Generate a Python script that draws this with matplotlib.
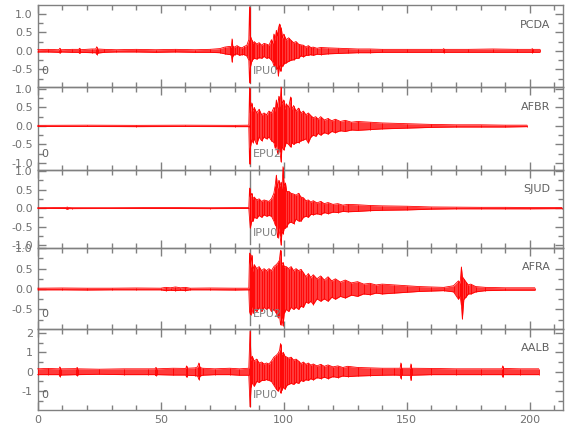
import matplotlib
matplotlib.use('Agg')
import matplotlib.pyplot as plt
from matplotlib.ticker import MultipleLocator, FixedLocator

# station names, top to bottom
stations = ['PCDA', 'AFBR', 'SJUD', 'AFRA', 'AALB']
picks = ['IPU0', 'EPU2', 'IPU0', 'EPU2', 'IPU0']
pick_time = 86.2

# trace envelopes: (time s, upper, lower)
pcda = [(0, .03, -.03), (4, .04, -.03), (8.6, .03, -.04), (9, .07, -.06), (9.4, .03, -.03),
        (14, .04, -.04), (16.7, .04, -.04), (17, .07, -.07), (17.3, .03, -.04), (22, .05, -.05),
        (23.6, .05, -.05), (24, .11, -.10), (24.4, .05, -.06), (27, .04, -.04), (32, .03, -.03),
        (40, .04, -.03), (48, .03, -.04), (56, .04, -.03), (64, .03, -.04), (70, .04, -.04),
        (74, .06, -.05), (76, .10, -.08), (78, .12, -.10), (78.7, .10, -.10), (79, .32, -.30),
        (79.3, .12, -.14), (80, .10, -.10), (81, .14, -.08), (82, .10, -.12), (83, .08, -.10),
        (84, .12, -.10), (85, .15, -.14), (85.8, .30, -.25), (86.1, 1.18, -.86), (86.4, .40, -.45),
        (87, .30, -.28), (87.5, .20, -.22), (88, .25, -.20), (89, .18, -.22), (90, .22, -.18),
        (91, .15, -.20), (92, .20, -.15), (93, .18, -.20), (94, .15, -.18), (95, .30, -.25),
        (95.5, .20, -.30), (96, .45, -.40), (96.5, .30, -.35), (97, .55, -.50), (97.5, .40, -.45),
        (97.8, .60, -.67), (98.3, .72, -.40), (98.7, .45, -.55), (99, .62, -.45), (99.5, .35, -.40),
        (100, .45, -.35), (101, .30, -.32), (102, .35, -.28), (103, .28, -.25), (104, .22, -.24),
        (105, .25, -.20), (106, .18, -.20), (107, .16, -.13), (108, .15, -.16), (109, .10, -.12),
        (110, .14, -.12), (111, .09, -.10), (112, .10, -.12), (113.5, .07, -.09), (115, .09, -.10),
        (118, .08, -.08), (122, .07, -.07), (126, .06, -.06), (130, .05, -.05), (135, .05, -.05),
        (140, .04, -.04), (150, .04, -.04), (160, .04, -.04), (164.7, .04, -.04), (165, .06, -.05),
        (165.3, .04, -.04), (175, .04, -.04), (185, .05, -.04), (195, .04, -.04), (200.7, .04, -.04),
        (201, .06, -.05), (201.3, .04, -.04), (204, .04, -.04)]

afbr = [(0, .015, -.015), (20, .02, -.015), (40, .015, -.02), (60, .02, -.015), (80, .015, -.02),
        (85.8, .02, -.02), (86.1, 1.03, -1.03), (86.4, .35, -.60), (87, .62, -.38), (87.5, .40, -.45),
        (88, .50, -.35), (89, .35, -.50), (90, .45, -.30), (91, .30, -.40), (92, .35, -.30),
        (93, .30, -.35), (94, .40, -.30), (95, .35, -.40), (96, .50, -.45), (96.5, .40, -.60),
        (97, .70, -.50), (97.5, .50, -.75), (98, .80, -.60), (98.5, .55, -.70), (98.9, 1.05, -.97),
        (99.3, .60, -.55), (100, .70, -.65), (100.5, .45, -.55), (101, .60, -.45), (102, .50, -.50),
        (102.8, .78, -.57), (103.3, .45, -.45), (104, .55, -.50), (105, .40, -.45), (106, .48, -.45),
        (107, .35, -.40), (108, .40, -.38), (109, .30, -.35), (110, .35, -.46), (111, .28, -.30),
        (112, .22, -.25), (113, .25, -.28), (114, .18, -.20), (115, .25, -.25), (116.5, .16, -.18),
        (118, .20, -.22), (119.5, .14, -.15), (121, .18, -.18), (123, .12, -.13), (125, .15, -.15),
        (127.5, .10, -.11), (130, .12, -.12), (135, .10, -.10), (140, .08, -.08), (150, .06, -.06),
        (160, .04, -.04), (170, .03, -.03), (180, .03, -.03), (190, .02, -.03), (198.8, .02, -.02)]

sjud = [(0, .01, -.01), (10, .015, -.01), (11.7, .015, -.015), (12, .03, -.03), (12.3, .015, -.015),
        (14, .01, -.015), (30, .01, -.01), (50, .015, -.01), (70, .01, -.015), (85.8, .015, -.01),
        (86.1, .54, -.30), (86.4, .30, -.54), (87, .40, -.35), (87.5, .25, -.35), (88, .30, -.25),
        (89, .22, -.28), (90, .25, -.20), (91, .18, -.25), (92, .22, -.18), (93, .20, -.22),
        (94, .18, -.20), (95, .25, -.22), (96, .40, -.35), (96.5, .60, -.45), (97, .89, -.50),
        (97.5, .55, -.80), (98, .75, -.55), (98.5, .60, -.75), (98.9, .70, -1.00), (99.3, .55, -.60),
        (99.7, 1.12, -.70), (100.2, .60, -.55), (100.7, .68, -.54), (101.2, .45, -.50), (102, .45, -.40),
        (103, .40, -.38), (104, .38, -.42), (105, .35, -.30), (106, .40, -.35), (107, .30, -.35),
        (108, .28, -.25), (109, .20, -.22), (110, .22, -.25), (111, .16, -.17), (112, .20, -.18),
        (113.5, .14, -.15), (115, .18, -.18), (116.5, .12, -.12), (118, .15, -.15), (120, .10, -.11),
        (122, .12, -.12), (124, .08, -.09), (126, .10, -.10), (130, .09, -.09), (135, .07, -.07),
        (140, .06, -.06), (150, .05, -.05), (160, .03, -.03), (170, .025, -.02), (180, .02, -.02),
        (190, .02, -.02), (200, .015, -.02), (213, .015, -.015)]

afra = [(0, .02, -.02), (10, .025, -.02), (20, .02, -.025), (30, .02, -.02), (40, .025, -.02),
        (50, .02, -.02), (52, .04, -.04), (54, .03, -.03), (56, .05, -.04), (58, .03, -.03),
        (60, .04, -.04), (62, .02, -.02), (70, .025, -.02), (80, .02, -.025), (85.8, .02, -.02),
        (86.1, .88, -.56), (86.5, .55, -.63), (87, .83, -.45), (87.5, .45, -.60), (88, .60, -.50),
        (89, .50, -.55), (90, .55, -.45), (91, .45, -.55), (92, .50, -.45), (93, .45, -.50),
        (94, .50, -.45), (95, .45, -.55), (96, .55, -.50), (97, .60, -.60), (97.7, .65, -.70),
        (98.2, .70, -.60), (98.7, .95, -.88), (99.2, .60, -.70), (99.7, .65, -.90), (100.2, .55, -.60),
        (101, .55, -.50), (102, .50, -.55), (103, .55, -.45), (104, .45, -.50), (105, .50, -.45),
        (106, .45, -.50), (107, .48, -.42), (108, .40, -.45), (109, .30, -.32), (110, .38, -.35),
        (111, .28, -.30), (112, .35, -.38), (113.5, .25, -.24), (115, .32, -.30), (116.5, .22, -.24),
        (118, .30, -.30), (119.5, .20, -.20), (121, .25, -.25), (123, .17, -.18), (125, .22, -.22),
        (127.5, .15, -.15), (130, .18, -.18), (132.5, .12, -.12), (135, .14, -.14), (137.5, .10, -.10),
        (140, .12, -.12), (145, .10, -.10), (150, .08, -.08), (155, .06, -.06), (160, .05, -.05),
        (165, .04, -.04), (169, .08, -.07), (171, .20, -.25), (171.7, .15, -.18), (172.2, .54, -.40),
        (172.6, .30, -.73), (173.2, .25, -.25), (174, .18, -.20), (175, .10, -.12), (176, .12, -.12),
        (178, .06, -.07), (182, .04, -.04), (190, .03, -.03), (202, .03, -.03)]

aalb = [(0, .15, -.15), (4, .17, -.15), (8.7, .15, -.15), (9, .25, -.25), (9.3, .15, -.17),
        (15.7, .16, -.15), (16, .22, -.20), (16.3, .15, -.15), (25, .13, -.13), (35, .15, -.15),
        (45, .15, -.15), (47.7, .15, -.15), (48, .22, -.20), (48.3, .15, -.15), (55, .18, -.17),
        (60.2, .17, -.17), (60.5, .30, -.28), (60.8, .18, -.18), (64, .20, -.20), (65, .25, -.22),
        (65.5, .45, -.40), (66, .22, -.22), (67, .18, -.18), (72, .15, -.15), (78, .18, -.15),
        (82, .15, -.18), (85.8, .18, -.18), (86.3, 2.09, -1.80), (86.7, .60, -.80), (87.2, .80, -.55),
        (88, .55, -.75), (89, .65, -.50), (90, .45, -.55), (91, .50, -.45), (92, .40, -.45),
        (93, .45, -.40), (94, .40, -.45), (95, .55, -.50), (96, .75, -.70), (97, .85, -.90),
        (97.7, .95, -1.00), (98.3, 1.10, -.80), (98.7, 1.45, -1.10), (99.2, .90, -.95), (99.8, 1.00, -.80),
        (100.5, .80, -.90), (101.3, .75, -.70), (102, .70, -.65), (103, .75, -.60), (104, .60, -.65),
        (105, .65, -.55), (106, .55, -.60), (107, .42, -.45), (108, .50, -.50), (109, .38, -.40),
        (110, .45, -.45), (111, .34, -.35), (112, .40, -.42), (113.5, .30, -.30), (115, .38, -.35),
        (116.5, .28, -.28), (118, .35, -.35), (120, .25, -.25), (122, .30, -.30), (124, .22, -.22),
        (126, .28, -.25), (130, .22, -.22), (135, .20, -.20), (140, .18, -.18), (145, .18, -.17),
        (147.3, .18, -.18), (147.6, .45, -.35), (147.9, .18, -.18), (151.4, .18, -.18), (151.7, .40, -.45),
        (152, .18, -.18), (160, .17, -.15), (170, .15, -.15), (180, .15, -.15), (188.7, .15, -.15),
        (189, .30, -.28), (189.3, .17, -.15), (196, .15, -.15), (203.6, .15, -.15)]

traces = [pcda, afbr, sjud, afra, aalb]

# y limits and ticks per panel
ylims = [(-0.97, 1.23), (-1.19, 1.05), (-1.08, 1.03), (-0.98, 1.005), (-1.97, 2.2)]
yticks = [[-0.5, 0.0, 0.5, 1.0], [-1.0, -0.5, 0.0, 0.5, 1.0], [-1.0, -0.5, 0.0, 0.5, 1.0],
          [-0.5, 0.0, 0.5, 1.0], [-1, 0, 1, 2]]
yminor = [0.25, 0.25, 0.25, 0.25, 0.5]
show_zero = [True, True, False, True, True]

grey = '#808080'

fig = plt.figure(figsize=(5.8, 4.4), dpi=100)
W, H = 580.0, 440.0
edges = [5, 87, 170, 248, 329, 410]
left, right = 37.7, 563.0

for i in range(5):
    top, bot = edges[i], edges[i + 1]
    ax = fig.add_axes([left / W, 1 - bot / H, (right - left) / W, (bot - top) / H])
    ax.patch.set_visible(False)
    t = [p[0] for p in traces[i]]
    hi = [p[1] for p in traces[i]]
    lo = [p[2] for p in traces[i]]
    # envelope band, with the peaks drawn as strokes on top
    ax.fill_between(t, lo, hi, color='#ff3a3a', lw=0, clip_on=False, zorder=3)
    ax.plot(t, hi, color='#ff0000', lw=0.6, clip_on=False, zorder=3)
    ax.plot(t, lo, color='#ff0000', lw=0.6, clip_on=False, zorder=3)
    ax.vlines(t, lo, hi, color='#ff0000', lw=0.6, clip_on=False, zorder=3)

    ax.axvline(pick_time, ymin=0.05, ymax=1.0, color=grey, lw=1, zorder=2)
    ax.text(pick_time + 1.2, 0.19, picks[i], transform=ax.get_xaxis_transform(),
            color=grey, fontsize=8, va='center', ha='left', zorder=4)
    ax.text(0.976, 0.76, stations[i], transform=ax.transAxes, color='#606060',
            fontsize=8, ha='right', va='center')
    if show_zero[i]:
        ax.text(0.007, 0.19, '0', transform=ax.transAxes, color='#606060',
                fontsize=8, ha='left', va='center')

    ax.set_xlim(0, 213.5)
    ax.set_ylim(*ylims[i])
    ax.xaxis.set_major_locator(MultipleLocator(50))
    ax.xaxis.set_minor_locator(MultipleLocator(10))
    ax.yaxis.set_major_locator(FixedLocator(yticks[i]))
    ax.yaxis.set_minor_locator(MultipleLocator(yminor[i]))
    if i < 4:
        ax.set_yticklabels(['%.1f' % v for v in yticks[i]])
        ax.tick_params(axis='x', labelbottom=False)
    else:
        ax.set_yticklabels(['%d' % v for v in yticks[i]])
    ax.tick_params(which='both', direction='in', top=True, right=True,
                   colors=grey, labelcolor='#707070', labelsize=8, width=1)
    ax.tick_params(which='major', length=6)
    ax.tick_params(which='minor', length=3.5)
    for s in ax.spines.values():
        s.set_color(grey)
        s.set_linewidth(1)

fig.savefig('out.png', dpi=100)
